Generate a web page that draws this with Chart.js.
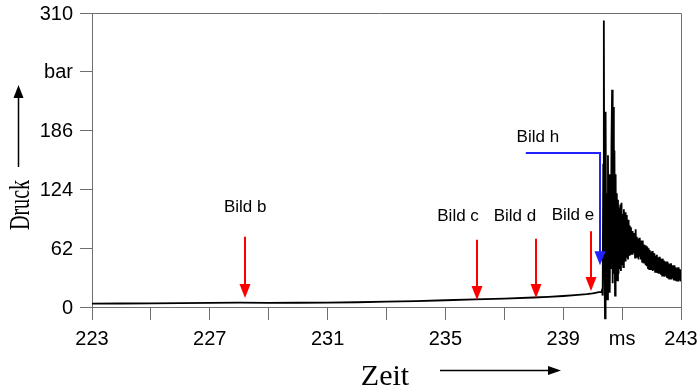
<!DOCTYPE html>
<html>
<head>
<meta charset="utf-8">
<script src="https://cdn.jsdelivr.net/npm/chart.js@4/dist/chart.umd.min.js"></script>
<style>
  html, body { margin: 0; padding: 0; background: #fff; }
  #wrap { width: 698px; height: 388px; }
</style>
</head>
<body>
<div id="wrap"><canvas id="chart" width="698" height="388"></canvas></div>
<script>
// slow pressure rise before ignition (ms / bar)
const quietTime = [223, 224, 225, 226, 227, 228, 229, 230, 231, 232, 233, 234, 235, 236, 237, 238, 238.5, 239, 239.4, 239.8, 240.0, 240.1, 240.2];
const quietPressure = [3.5, 3.7, 3.9, 4.1, 4.3, 4.6, 4.4, 4.5, 4.6, 5.0, 5.6, 6.3, 7.1, 8.0, 8.9, 10.0, 10.7, 11.6, 12.5, 13.6, 14.4, 15.0, 15.6];

// knocking burst and decay
const burstTime = [
  240.30, 240.32, 240.34, 240.36, 240.38, 240.40, 240.42, 240.44, 240.46, 240.48,
  240.50, 240.52, 240.54, 240.56, 240.58, 240.60, 240.62, 240.64, 240.66, 240.68,
  240.70, 240.72, 240.74, 240.76, 240.78, 240.80, 240.82, 240.84, 240.86, 240.88,
  240.90, 240.92, 240.94, 240.96, 240.98, 241.00, 241.02, 241.04, 241.06, 241.08,
  241.10, 241.12, 241.14, 241.16, 241.18, 241.20, 241.22, 241.24, 241.26, 241.28,
  241.30, 241.32, 241.34, 241.36, 241.38, 241.40, 241.42, 241.44, 241.46, 241.48,
  241.50, 241.52, 241.54, 241.56, 241.58, 241.60, 241.62, 241.64, 241.66, 241.68,
  241.70, 241.72, 241.74, 241.76, 241.78, 241.80, 241.82, 241.84, 241.86, 241.88,
  241.90, 241.92, 241.94, 241.96, 241.98, 242.00, 242.02, 242.04, 242.06, 242.08,
  242.10, 242.12, 242.14, 242.16, 242.18, 242.20, 242.22, 242.24, 242.26, 242.28,
  242.30, 242.32, 242.34, 242.36, 242.38, 242.40, 242.42, 242.44, 242.46, 242.48,
  242.50, 242.52, 242.54, 242.56, 242.58, 242.60, 242.62, 242.64, 242.66, 242.68,
  242.70, 242.72, 242.74, 242.76, 242.78, 242.80, 242.82, 242.84, 242.86, 242.88,
  242.90, 242.92, 242.94, 242.96, 242.98, 243.00
];
const burstPressure = [
  16, 18, 12, 150, 302, 40, -12, 206, 20, 120,
  8, 160, 30, 140, 15, 110, 40, 175, 229, 25,
  211, 35, 165, 12, 140, 30, 120, 28, 113, 35,
  105, 40, 108, 38, 110, 45, 98, 42, 103, 50,
  100, 48, 97, 52, 90, 50, 92, 55, 86, 56,
  84, 58, 80, 55, 78, 57, 76, 52, 82, 54,
  74, 52, 72, 50, 73, 53, 70, 50, 69, 48,
  70, 47, 66, 46, 65, 44, 64, 43, 63, 41,
  62, 40, 60, 41, 58, 39, 59, 38, 57, 39,
  56, 37, 54, 38, 55, 36, 52, 35, 53, 35,
  51, 34, 50, 33, 51, 33, 49, 32, 48, 33,
  47, 31, 48, 31, 46, 30, 45, 31, 46, 29,
  44, 30, 43, 28, 44, 29, 42, 28, 41, 27,
  42, 27, 40, 28, 39, 27
];

const yTickValues = [0, 62, 124, 186, 248, 310];
const yTickLabels = ['0', '62', '124', '186', 'bar', '310'];
const xTickValues = [223, 227, 231, 235, 239, 241, 243];
const xTickLabels = ['223', '227', '231', '235', '239', 'ms', '243'];

// red "Bild" markers
const markerNames = ['Bild b', 'Bild c', 'Bild d', 'Bild e'];
const markerTime  = [228.2, 236.06, 238.07, 239.94];
const markerFrom  = [74, 71, 72, 80];
const markerTo    = [9.5, 7.5, 9.5, 17];
const labelTime   = [228.2, 235.43, 237.36, 239.33];
const labelLevel  = [105, 96, 96, 97];

// blue "Bild h" marker
const hName = 'Bild h';
const hStart = 237.73, hCorner = 240.24, hLevel = 162.4, hTip = 44;
const hLabelTime = 238.14, hLabelLevel = 179;

const points = quietTime.map((t, i) => ({ x: t, y: quietPressure[i] }))
  .concat(burstTime.map((t, i) => ({ x: t, y: burstPressure[i] })));

const AXIS = '#6f6f6f';
const SANS = '"Liberation Sans", Arial, sans-serif';
const SERIF = '"Liberation Serif", "Times New Roman", serif';

function arrowDown(ctx, x, yTop, yTip, color) {
  ctx.strokeStyle = color;
  ctx.fillStyle = color;
  ctx.lineWidth = 2;
  ctx.beginPath();
  ctx.moveTo(x, yTop);
  ctx.lineTo(x, yTip - 12);
  ctx.stroke();
  ctx.beginPath();
  ctx.moveTo(x - 5.5, yTip - 14);
  ctx.lineTo(x + 5.5, yTip - 14);
  ctx.lineTo(x, yTip);
  ctx.closePath();
  ctx.fill();
}

const decorations = {
  id: 'decorations',
  afterDraw(chart) {
    const ctx = chart.ctx;
    const xs = chart.scales.x, ys = chart.scales.y;
    const a = chart.chartArea;
    ctx.save();

    // frame top + right
    ctx.strokeStyle = AXIS;
    ctx.lineWidth = 1;
    ctx.beginPath();
    ctx.moveTo(a.left - 12, Math.round(a.top) + 0.5);
    ctx.lineTo(Math.round(a.right) + 0.5, Math.round(a.top) + 0.5);
    ctx.lineTo(Math.round(a.right) + 0.5, a.bottom);
    ctx.stroke();

    // tick labels
    ctx.fillStyle = '#000';
    ctx.font = '20px ' + SANS;
    ctx.textAlign = 'right';
    ctx.textBaseline = 'middle';
    yTickValues.forEach((v, i) => ctx.fillText(yTickLabels[i], a.left - 19, ys.getPixelForValue(v) + 1));
    ctx.textAlign = 'center';
    ctx.textBaseline = 'top';
    xTickValues.forEach((v, i) => ctx.fillText(xTickLabels[i], xs.getPixelForValue(v), a.bottom + 22));

    // red markers
    ctx.font = '17px ' + SANS;
    ctx.textBaseline = 'middle';
    markerNames.forEach((name, i) => {
      const x = Math.round(xs.getPixelForValue(markerTime[i]));
      arrowDown(ctx, x, ys.getPixelForValue(markerFrom[i]), ys.getPixelForValue(markerTo[i]), '#ff0000');
      ctx.fillStyle = '#000';
      ctx.fillText(name, xs.getPixelForValue(labelTime[i]), ys.getPixelForValue(labelLevel[i]));
    });

    // blue marker
    const hx1 = xs.getPixelForValue(hStart), hx2 = Math.round(xs.getPixelForValue(hCorner));
    const hy = Math.round(ys.getPixelForValue(hLevel));
    ctx.strokeStyle = '#2222ff';
    ctx.lineWidth = 2;
    ctx.beginPath();
    ctx.moveTo(hx1, hy);
    ctx.lineTo(hx2, hy);
    ctx.stroke();
    arrowDown(ctx, hx2, hy - 1, ys.getPixelForValue(hTip), '#2222ff');
    ctx.fillStyle = '#000';
    ctx.fillText(hName, xs.getPixelForValue(hLabelTime), ys.getPixelForValue(hLabelLevel));

    // axis titles
    ctx.fillStyle = '#000';
    ctx.font = '30px ' + SERIF;
    ctx.textAlign = 'center';
    ctx.textBaseline = 'alphabetic';
    ctx.fillText('Zeit', 385, 385);
    ctx.strokeStyle = '#000';
    ctx.lineWidth = 1.5;
    ctx.beginPath();
    ctx.moveTo(440, 370.5);
    ctx.lineTo(550, 370.5);
    ctx.stroke();
    ctx.beginPath();
    ctx.moveTo(548, 366);
    ctx.lineTo(561, 370.5);
    ctx.lineTo(548, 375);
    ctx.closePath();
    ctx.fill();

    ctx.save();
    ctx.translate(29, 205);
    ctx.rotate(-Math.PI / 2);
    ctx.scale(0.67, 1);
    ctx.fillText('Druck', 0, 0);
    ctx.restore();
    ctx.beginPath();
    ctx.moveTo(18.5, 167);
    ctx.lineTo(18.5, 96);
    ctx.stroke();
    ctx.beginPath();
    ctx.moveTo(13.5, 98);
    ctx.lineTo(23.5, 98);
    ctx.lineTo(18.5, 85);
    ctx.closePath();
    ctx.fill();

    ctx.restore();
  }
};

new Chart(document.getElementById('chart'), {
  type: 'line',
  data: {
    datasets: [{
      data: points,
      borderColor: '#000',
      borderWidth: 1.8,
      pointRadius: 0,
      tension: 0,
      clip: false
    }]
  },
  options: {
    responsive: false,
    animation: false,
    devicePixelRatio: 1,
    layout: { padding: { top: 13, right: 17, left: 0, bottom: 0 } },
    plugins: { legend: { display: false }, tooltip: { enabled: false } },
    scales: {
      x: {
        type: 'linear',
        min: 223,
        max: 243,
        afterFit: s => { s.height = 81; },
        ticks: { display: false, stepSize: 2 },
        grid: { drawOnChartArea: false, tickLength: 13, color: AXIS },
        border: { color: AXIS, width: 1 }
      },
      y: {
        min: 0,
        max: 310,
        afterFit: s => { s.width = 92; },
        ticks: { display: false, stepSize: 62 },
        grid: { drawOnChartArea: false, tickLength: 12, color: AXIS },
        border: { color: AXIS, width: 1 }
      }
    }
  },
  plugins: [decorations]
});
</script>
</body>
</html>
